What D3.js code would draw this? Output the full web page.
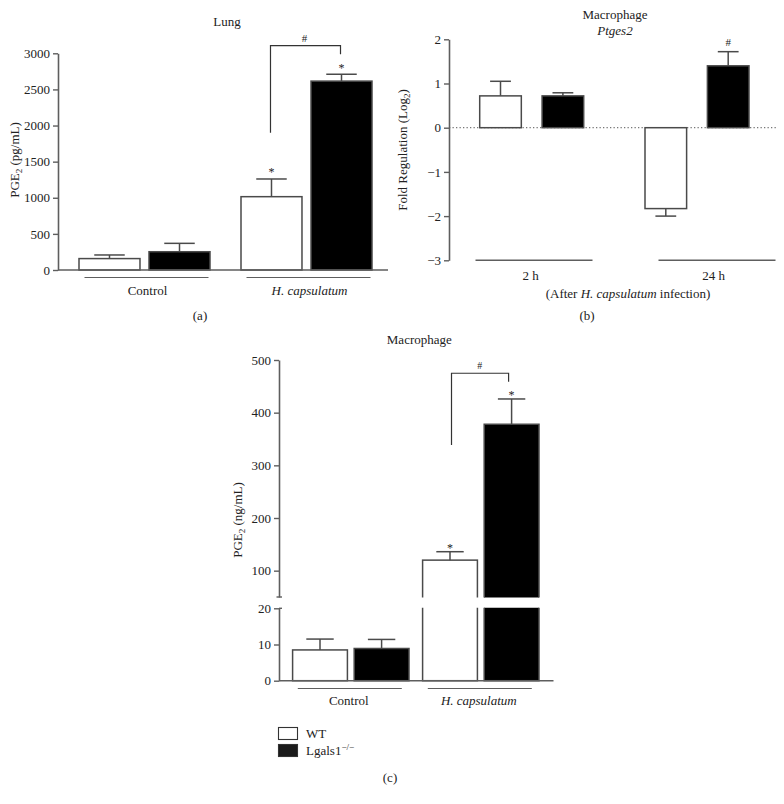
<!DOCTYPE html>
<html>
<head>
<meta charset="utf-8">
<script src="https://cdnjs.cloudflare.com/ajax/libs/d3/7.8.5/d3.min.js"></script>
<style>
  html, body { margin: 0; padding: 0; background: #fff; }
  svg text { font-family: "Liberation Serif", "DejaVu Serif", serif; fill: #222; }
</style>
</head>
<body>
<svg id="chart" width="784" height="804"></svg>
<script>
// ---------------- DATA ----------------
const seriesNames = ["WT", "Lgals1"];
const infectionGroups = ["Control", "H. capsulatum"];
const timeGroups = ["2 h", "24 h"];

// (a) Lung PGE2 (pg/mL)
const lungWT = [158, 1015];
const lungWTsem = [50, 245];
const lungKO = [253, 2615];
const lungKOsem = [116, 95];
const lungTicks = [0, 500, 1000, 1500, 2000, 2500, 3000];

// (b) Macrophage Ptges2 fold regulation (log2)
const ptgesWT = [0.72, -1.83];
const ptgesWTsem = [0.33, 0.17];
const ptgesKO = [0.72, 1.40];
const ptgesKOsem = [0.07, 0.32];
const ptgesTicks = [-3, -2, -1, 0, 1, 2];

// (c) Macrophage PGE2 (ng/mL), broken axis
const macWT = [8.5, 120];
const macWTsem = [3.0, 16];
const macKO = [8.9, 378];
const macKOsem = [2.5, 48];
const macTicksLow = [0, 10, 20];
const macTicksHigh = [100, 200, 300, 400, 500];

// ---------------- STYLE ----------------
const AX = "#5e5e5e";
const BAR_STROKE = "#4a4a4a";
const FS = 13;

const svg = d3.select("#chart");

function minus(v) { return String(v).replace("-", "\u2212"); }

function styleAxis(g) {
  g.attr("font-family", '"Liberation Serif", serif');
  g.selectAll(".domain").attr("stroke", AX).attr("stroke-width", 1.6);
  g.selectAll(".tick line").attr("stroke", AX).attr("stroke-width", 1.4);
  g.selectAll(".tick text").attr("font-size", FS).attr("fill", "#222")
    .style("font-family", '"Liberation Serif", serif');
}

function seriesTable(wt, wts, ko, kos, groups) {
  const rows = [];
  groups.forEach((g, i) => {
    rows.push({ group: g, series: seriesNames[0], v: wt[i], e: wts[i] });
    rows.push({ group: g, series: seriesNames[1], v: ko[i], e: kos[i] });
  });
  return rows;
}

function drawErr(g, xc, w, y0, y1) {
  g.append("line").attr("x1", xc).attr("x2", xc).attr("y1", y0).attr("y2", y1)
    .attr("stroke", BAR_STROKE).attr("stroke-width", 1.5);
  g.append("line").attr("x1", xc - w / 2).attr("x2", xc + w / 2).attr("y1", y1).attr("y2", y1)
    .attr("stroke", BAR_STROKE).attr("stroke-width", 1.5);
}

function star(x, yCenter, ch, fs) {
  const off = ch === "*" ? 0.5 * fs : 0.33 * fs;
  svg.append("text").attr("x", x).attr("y", yCenter + off).attr("text-anchor", "middle")
    .attr("font-size", fs).text(ch);
}

function centerText(x, y, txt, opts = {}) {
  const t = svg.append("text").attr("x", x).attr("y", y).attr("text-anchor", "middle")
    .attr("font-size", opts.fs || FS);
  if (opts.italic) t.attr("font-style", "italic");
  t.text(txt);
  return t;
}

// ================= PANEL (a) =================
(function () {
  const y = d3.scaleLinear().domain([0, 3000]).range([270, 53.3]);
  const xg = d3.scalePoint().domain(infectionGroups).range([144.5, 306.5]);
  const xs = d3.scaleBand().domain(seriesNames).range([-65.5, 65.5]).paddingInner(0.129);
  const axisX = 58;
  const rows = seriesTable(lungWT, lungWTsem, lungKO, lungKOsem, infectionGroups);

  const g = svg.append("g");
  rows.forEach(d => {
    const x0 = xg(d.group) + xs(d.series);
    const bw = xs.bandwidth();
    drawErr(g, x0 + bw / 2, bw / 2, y(d.v), y(d.v + d.e));
    g.append("rect").attr("x", x0).attr("y", y(d.v)).attr("width", bw).attr("height", y(0) - y(d.v))
      .attr("fill", d.series === "WT" ? "#fff" : "#000")
      .attr("stroke", BAR_STROKE).attr("stroke-width", 1.5);
  });

  const ax = svg.append("g").attr("transform", `translate(${axisX},0)`)
    .call(d3.axisLeft(y).tickValues(lungTicks).tickFormat(d3.format("d"))
      .tickSize(5).tickSizeOuter(0).tickPadding(3));
  styleAxis(ax);
  svg.append("line").attr("x1", axisX).attr("x2", 388).attr("y1", y(0)).attr("y2", y(0))
    .attr("stroke", AX).attr("stroke-width", 1.6);

  // group lines + labels
  infectionGroups.forEach(gr => {
    svg.append("line").attr("x1", xg(gr) - 60).attr("x2", xg(gr) + 64)
      .attr("y1", 277.5).attr("y2", 277.5).attr("stroke", AX).attr("stroke-width", 1.2);
    centerText(xg(gr) + 3, 294.5, gr, { italic: gr !== "Control" });
  });

  // significance
  const cx = i => xg(infectionGroups[1]) + xs(seriesNames[i]) + xs.bandwidth() / 2;
  star(cx(0), y(lungWT[1] + lungWTsem[1]) - 8.5, "*", 12);
  star(cx(1), y(lungKO[1] + lungKOsem[1]) - 8, "*", 12);
  const top = y(3105);
  svg.append("path").attr("fill", "none").attr("stroke", "#333").attr("stroke-width", 1.2)
    .attr("d", `M${cx(0) - 1},${y(1900)}V${top}H${cx(1) - 1}V${y(2986)}`);
  star((cx(0) + cx(1)) / 2 - 2, top - 7, "#", 11);

  // labels
  centerText(227, 25.5, "Lung");
  const yl = svg.append("text").attr("transform", "translate(19,160) rotate(-90)")
    .attr("text-anchor", "middle").attr("font-size", FS);
  yl.append("tspan").text("PGE");
  yl.append("tspan").attr("font-size", 9).attr("dy", 3).text("2");
  yl.append("tspan").attr("dy", -3).text(" (pg/mL)");
  centerText(200, 319.5, "(a)");
})();

// ================= PANEL (b) =================
(function () {
  const y = d3.scaleLinear().domain([-3, 2]).range([260.3, 39.3]);
  const xg = d3.scalePoint().domain(timeGroups).range([531.7, 697]);
  const xs = d3.scaleBand().domain(seriesNames).range([-52, 52]).paddingInner(0.333);
  const xl = d3.scalePoint().domain(timeGroups).range([533.5, 716.5]);
  const axisX = 449;
  const rows = seriesTable(ptgesWT, ptgesWTsem, ptgesKO, ptgesKOsem, timeGroups);

  // dotted zero line
  svg.append("line").attr("x1", axisX).attr("x2", 777).attr("y1", y(0)).attr("y2", y(0))
    .attr("stroke", "#777").attr("stroke-width", 1.2).attr("stroke-dasharray", "1.3,2.2");

  const g = svg.append("g");
  rows.forEach(d => {
    const x0 = xg(d.group) + xs(d.series);
    const bw = xs.bandwidth();
    const ev = d.v >= 0 ? d.v + d.e : d.v - d.e;
    drawErr(g, x0 + bw / 2, bw / 2, y(d.v), y(ev));
    g.append("rect").attr("x", x0).attr("y", y(Math.max(0, d.v))).attr("width", bw)
      .attr("height", Math.abs(y(d.v) - y(0)))
      .attr("fill", d.series === "WT" ? "#fff" : "#000")
      .attr("stroke", BAR_STROKE).attr("stroke-width", 1.5);
  });

  const ax = svg.append("g").attr("transform", `translate(${axisX},0)`)
    .call(d3.axisLeft(y).tickValues(ptgesTicks).tickSize(5).tickSizeOuter(0).tickPadding(3)
      .tickFormat(minus));
  styleAxis(ax);

  // group lines along the bottom
  timeGroups.forEach((gr, i) => {
    const c = xl(gr);
    svg.append("line").attr("x1", c - 58).attr("x2", c + 59).attr("y1", y(-3)).attr("y2", y(-3))
      .attr("stroke", AX).attr("stroke-width", 1.4);
    centerText(c - 3, 280, gr);
  });
  const sub = svg.append("text").attr("x", 628).attr("y", 297.5).attr("text-anchor", "middle")
    .attr("font-size", FS);
  sub.append("tspan").text("(After ");
  sub.append("tspan").attr("font-style", "italic").text("H. capsulatum");
  sub.append("tspan").text(" infection)");

  const cx1 = xg(timeGroups[1]) + xs(seriesNames[1]) + xs.bandwidth() / 2;
  star(cx1, y(ptgesKO[1] + ptgesKOsem[1]) - 9, "#", 11);

  centerText(615, 18.5, "Macrophage");
  centerText(615, 34.5, "Ptges2", { italic: true });
  const yl = svg.append("text").attr("transform", "translate(407,150) rotate(-90)")
    .attr("text-anchor", "middle").attr("font-size", FS);
  yl.append("tspan").text("Fold Regulation (Log");
  yl.append("tspan").attr("font-size", 9).attr("dy", 3).text("2");
  yl.append("tspan").attr("dy", -3).text(")");
  centerText(587, 320, "(b)");
})();

// ================= PANEL (c) =================
(function () {
  const yLow = d3.scaleLinear().domain([0, 20]).range([680.7, 608.3]);
  const yHigh = d3.scaleLinear().domain([50, 500]).range([597, 360]);
  const xg = d3.scalePoint().domain(infectionGroups).range([350.8, 480.8]);
  const xs = d3.scaleBand().domain(seriesNames).range([-58.2, 58.2]).paddingInner(0.11);
  const axisX = 279;
  const rows = seriesTable(macWT, macWTsem, macKO, macKOsem, infectionGroups);

  const defs = svg.append("defs");
  defs.append("clipPath").attr("id", "clipLow").append("rect")
    .attr("x", 0).attr("y", yLow(20) - 0.5).attr("width", 784).attr("height", 200);
  defs.append("clipPath").attr("id", "clipHigh").append("rect")
    .attr("x", 0).attr("y", 300).attr("width", 784).attr("height", yHigh(50) + 0.5 - 300);

  const gLow = svg.append("g").attr("clip-path", "url(#clipLow)");
  const gHigh = svg.append("g").attr("clip-path", "url(#clipHigh)");
  const gErr = svg.append("g");

  rows.forEach(d => {
    const x0 = xg(d.group) + xs(d.series);
    const bw = xs.bandwidth();
    const fill = d.series === "WT" ? "#fff" : "#000";
    const topLow = d.v > 20 ? yLow(20) - 10 : yLow(d.v);
    gLow.append("rect").attr("x", x0).attr("y", topLow).attr("width", bw)
      .attr("height", yLow(0) - topLow).attr("fill", fill)
      .attr("stroke", BAR_STROKE).attr("stroke-width", 1.5);
    if (d.v > 50) {
      gHigh.append("rect").attr("x", x0).attr("y", yHigh(d.v)).attr("width", bw)
        .attr("height", yHigh(50) + 10 - yHigh(d.v)).attr("fill", fill)
        .attr("stroke", BAR_STROKE).attr("stroke-width", 1.5);
      drawErr(gErr, x0 + bw / 2, bw / 2, yHigh(d.v), yHigh(d.v + d.e));
    } else {
      drawErr(gErr, x0 + bw / 2, bw / 2, yLow(d.v), yLow(d.v + d.e));
    }
  });

  const axL = svg.append("g").attr("transform", `translate(${axisX},0)`)
    .call(d3.axisLeft(yLow).tickValues(macTicksLow).tickSize(5).tickSizeOuter(0).tickPadding(3));
  styleAxis(axL);
  const axH = svg.append("g").attr("transform", `translate(${axisX},0)`)
    .call(d3.axisLeft(yHigh).tickValues(macTicksHigh).tickSize(5).tickSizeOuter(0).tickPadding(3));
  styleAxis(axH);
  // break caps
  svg.append("line").attr("x1", axisX - 2.5).attr("x2", axisX + 3).attr("y1", yHigh(50)).attr("y2", yHigh(50))
    .attr("stroke", AX).attr("stroke-width", 1.4);
  svg.append("line").attr("x1", axisX).attr("x2", axisX + 3).attr("y1", yLow(20)).attr("y2", yLow(20))
    .attr("stroke", AX).attr("stroke-width", 1.4);
  svg.append("line").attr("x1", axisX).attr("x2", 553.5).attr("y1", yLow(0)).attr("y2", yLow(0))
    .attr("stroke", AX).attr("stroke-width", 1.6);

  infectionGroups.forEach(gr => {
    svg.append("line").attr("x1", xg(gr) - 53).attr("x2", xg(gr) + 51)
      .attr("y1", 688.5).attr("y2", 688.5).attr("stroke", AX).attr("stroke-width", 1.2);
    centerText(xg(gr) - 2, 704.5, gr, { italic: gr !== "Control" });
  });

  const cx = i => xg(infectionGroups[1]) + xs(seriesNames[i]) + xs.bandwidth() / 2;
  star(cx(0), yHigh(macWT[1] + macWTsem[1]) - 6, "*", 12);
  star(cx(1), yHigh(macKO[1] + macKOsem[1]) - 6, "*", 12);
  const top = yHigh(474.8);
  svg.append("path").attr("fill", "none").attr("stroke", "#333").attr("stroke-width", 1.2)
    .attr("d", `M${cx(0) + 1.5},${yHigh(338.7)}V${top}H${cx(1) - 3}V${yHigh(458.8)}`);
  star((cx(0) + cx(1)) / 2 - 1, top - 8, "#", 10);

  centerText(419.3, 344, "Macrophage");
  const yl = svg.append("text").attr("transform", "translate(242,520) rotate(-90)")
    .attr("text-anchor", "middle").attr("font-size", FS);
  yl.append("tspan").text("PGE");
  yl.append("tspan").attr("font-size", 9).attr("dy", 3).text("2");
  yl.append("tspan").attr("dy", -3).text(" (ng/mL)");

  // legend
  const leg = svg.append("g");
  seriesNames.forEach((s, i) => {
    const yy = 727.5 + i * 17;
    leg.append("rect").attr("x", 278.5).attr("y", yy).attr("width", 19).attr("height", 12)
      .attr("fill", i === 0 ? "#fff" : "#1a1a1a").attr("stroke", "#333").attr("stroke-width", 1.1);
    const t = leg.append("text").attr("x", 306).attr("y", yy + 10.5).attr("font-size", FS);
    t.append("tspan").text(s);
    if (i === 1) t.append("tspan").attr("font-size", 9).attr("dy", -5.5).text("\u2212/\u2212");
  });

  centerText(390, 782, "(c)");
})();
</script>
</body>
</html>
